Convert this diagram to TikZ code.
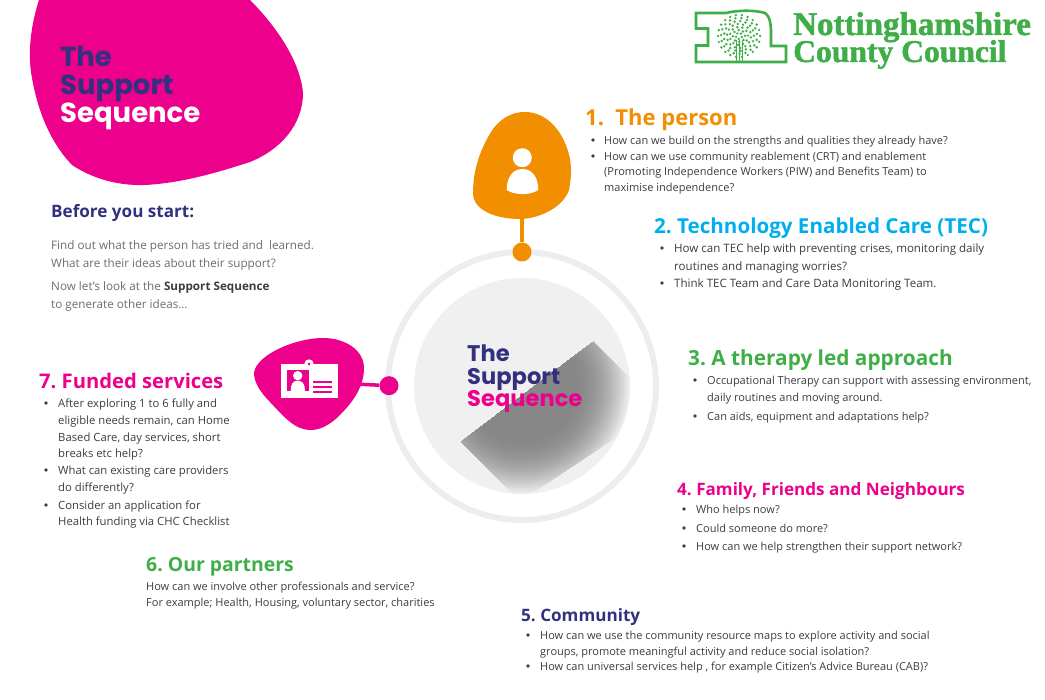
\documentclass[tikz,border=0pt]{standalone}
\usepackage{fontspec}
\setmainfont{Open Sans}
\newfontfamily\brandfont{Poppins}
\newfontfamily\logofont[FakeBold=1.5]{Liberation Serif}
\usetikzlibrary{calc}
\definecolor{brandpink}{HTML}{EC008C}
\definecolor{brandnavy}{HTML}{33317F}
\definecolor{brandorange}{HTML}{F18F01}
\definecolor{brandblue}{HTML}{00AEEF}
\definecolor{brandgreen}{HTML}{3FAE49}
\definecolor{bodytext}{HTML}{3C3C3C}
\definecolor{ringgray}{HTML}{ECEDEF}
\definecolor{discgray}{HTML}{F0F0F1}
\definecolor{shadowgray}{HTML}{878787}

\begin{document}
\frenchspacing
\begin{tikzpicture}[
  x=1pt,y=-1pt,
  heading/.style 2 args={anchor=base west,inner sep=0,text=#1,font=\fontsize{#2}{#2}\selectfont\bfseries},
  item/.style 2 args={anchor=base west,inner sep=0,align=left,text=bodytext,font=\fontsize{#1}{#2}\selectfont},
  intro/.style={item={11.7}{18},text=bodytext!75},
  brand/.style={anchor=base west,inner sep=0,font=\brandfont\bfseries\fontsize{#1}{#1}\selectfont},
  logotext/.style={anchor=base west,inner sep=0,text=brandgreen,font=\logofont\bfseries\fontsize{#1}{#1}\selectfont},
  dot/.style={circle,inner sep=0,minimum size=19,fill=#1},
  tick/.style={circle,inner sep=0,minimum size=3.8,fill=bodytext}]
  \useasboundingbox (0,0) rectangle (1045,700);
  % draw blob behind the title
  \fill[brandpink] (39,0) .. controls (31,25) and (28,50) .. (31,72)
    .. controls (36,105) and (48,140) .. (72,165)
    .. controls (90,177) and (115,186) .. (145,185)
    .. controls (185,183) and (225,170) .. (250,162)
    .. controls (280,150) and (303,125) .. (303,93)
    .. controls (300,60) and (275,25) .. (250,0) -- cycle;
  \node[brand=27.5,text=brandnavy] (titlea) at (60,66.5) {The};
  \node[brand=27.5,text=brandnavy] (titleb) at (60,95) {Support};
  \node[brand=27.5,text=white] (titlec) at (60,122.5) {Sequence};
  % draw council logo
  \draw[brandgreen,line width=2.6,line join=miter] (696,13) -- (726,13)
    .. controls (738,10) and (755,10) .. (765,13)
    .. controls (772,18) and (771,30) .. (771,46) -- (786,46) -- (786,62) -- (696,62)
    -- (696,45.5) -- (708,45.5) -- (708,28.5) -- (696,28.5) -- cycle;
  \coordinate (crown) at (739,36);
  \foreach \r/\n in {3/5,6/8,9/11,12/14,15/17,18/19,21/22} {
    \foreach \k in {1,...,\n} {
      \fill[brandgreen] ($(crown)+({360*\k/\n+7*\r}:\r)$) circle (1.35);
    }
  }
  \foreach \x in {736,739,742} {
    \draw[brandgreen,line width=0.8] (\x,40) -- (\x,61);
  }
  \node[logotext=33] (logoa) at (793,35) {Nottinghamshire};
  \node[logotext=31.6] (logob) at (793,62) {County Council};
  % show rings and shadow in the middle
  \coordinate (hub) at (522,386);
  \draw[ringgray,line width=6] (hub) circle (134);
  \fill[discgray] (hub) circle (108);
  \begin{scope}
    \clip (593,342) -- (461,442) -- (520,501) -- (660,408) -- cycle;
    % fade the shadow out towards the rim of the disc
    \foreach \step in {0,...,116} {
      \pgfmathsetmacro{\fade}{100*(1-\step/116)^2}
      \fill[discgray!\fade!shadowgray] (hub) circle (108-\step/2);
    }
  \end{scope}
  \node[brand=22.6,text=brandnavy] (huba) at (467,361.5) {The};
  \node[brand=22.6,text=brandnavy] (hubb) at (467,384.5) {Support};
  \node[brand=22.6,text=brandpink] (hubc) at (467,407) {Sequence};
  % draw person blob with stem
  \node[dot=brandorange] (persondot) at (522,252) {};
  \fill[brandorange] (525,112) .. controls (545,112) and (560,128) .. (567,148)
    .. controls (572,162) and (572,175) .. (569,190)
    .. controls (562,210) and (535,219) .. (520,219)
    .. controls (495,219) and (473,210) .. (473,193)
    .. controls (473,170) and (480,150) .. (491,132)
    .. controls (500,118) and (512,112) .. (525,112) -- cycle;
  \coordinate (personfoot) at (522,215);
  \draw[brandorange,line width=3.5] (personfoot) -- (persondot);
  \fill[white] (522.3,157.7) circle (9.5);
  \fill[white] (506.7,190) .. controls (506.7,177) and (513,169) .. (522.3,169)
    .. controls (532,169) and (538.3,177) .. (538.3,190)
    .. controls (530,195.5) and (515,195.5) .. (506.7,190) -- cycle;
  % draw card blob with stem
  \node[dot=brandpink] (carddot) at (389,385.7) {};
  \fill[brandpink] (323,338) .. controls (345,338) and (364,350) .. (364,368)
    .. controls (364,385) and (355,400) .. (340,415)
    .. controls (330,425) and (320,430) .. (311,430)
    .. controls (295,430) and (285,418) .. (270,402)
    .. controls (260,392) and (254,382) .. (254,373)
    .. controls (256,355) and (295,338) .. (323,338) -- cycle;
  \coordinate (cardfoot) at (355,384);
  \draw[brandpink,line width=3.5] (cardfoot) -- (carddot);
  \fill[white] (281,364.3) rectangle (337.7,397.7);
  \fill[white] (309,364) circle (4.7);
  \fill[brandpink] (309,364) circle (1.5);
  \fill[brandpink] (286.7,370) rectangle (309.3,391);
  \fill[white] (297.7,375.7) circle (4.7);
  \fill[white] (290.7,391) .. controls (290.7,384) and (293,380.7) .. (297.7,380.7)
    .. controls (302.5,380.7) and (305,384) .. (305,391) -- cycle;
  \foreach \y in {380.7,385.7,390.7} {
    \fill[brandpink] (313,\y) rectangle (332.3,\y+2.6);
  }
  % left column
  \node[heading={brandnavy}{17.1}] (before) at (51,217.8) {Before you start:};
  \node[intro] (introa) at (51,268) {Find out what the person has tried and\ \ learned.\\What are their ideas about their support?};
  \node[intro] (introb) at (51,309) {Now let’s look at the \textcolor{bodytext}{\textbf{Support Sequence}}\\to generate other ideas…};
  % section 1
  \node[heading={brandorange}{22}] (sa) at (585,125.3) {1.\ \ The person};
  \node[item={11}{15.5}] (sa1) at (604,144.3) {How can we build on the strengths and qualities they already have?};
  \node[item={11}{15.5}] (sa2) at (604,191.3) {How can we use community reablement (CRT) and enablement\\(Promoting Independence Workers (PIW) and Benefits Team) to\\maximise independence?};
  % section 2
  \node[heading={brandblue}{20.6}] (sb) at (654,233.8) {2. Technology Enabled Care (TEC)};
  \node[item={11.55}{17.5}] (sb1) at (674,270.3) {How can TEC help with preventing crises, monitoring daily\\routines and managing worries?};
  \node[item={11.55}{17.5}] (sb2) at (674,287.8) {Think TEC Team and Care Data Monitoring Team.};
  % section 3
  \node[heading={brandgreen}{20.8}] (sc) at (688,365.8) {3. A therapy led approach};
  \node[item={11}{17}] (sc1) at (707,401.8) {Occupational Therapy can support with assessing environment,\\daily routines and moving around.};
  \node[item={11}{17}] (sc2) at (707,420.8) {Can aids, equipment and adaptations help?};
  % section 4
  \node[heading={brandpink}{17.1}] (sd) at (677,495.8) {4. Family, Friends and Neighbours};
  \node[item={11}{15.5}] (sd1) at (696,513.8) {Who helps now?};
  \node[item={11}{15.5}] (sd2) at (696,532.8) {Could someone do more?};
  \node[item={11}{15.5}] (sd3) at (696,550.8) {How can we help strengthen their support network?};
  % section 5
  \node[heading={brandnavy}{17.1}] (se) at (521,621) {5. Community};
  \node[item={11}{16}] (se1) at (540,655) {How can we use the community resource maps to explore activity and social\\groups, promote meaningful activity and reduce social isolation?};
  \node[item={11}{16}] (se2) at (540,670) {How can universal services help , for example Citizen’s Advice Bureau (CAB)?};
  % section 6
  \node[heading={brandgreen}{19.4}] (sf) at (146,571) {6. Our partners};
  \node[item={11}{16}] (sf1) at (146,606) {How can we involve other professionals and service?\\For example; Health, Housing, voluntary sector, charities};
  % section 7
  \node[heading={brandpink}{20.2}] (sg) at (39,388.8) {7. Funded services};
  \node[item={11.3}{16.7}] (sg1) at (58,457.8) {After exploring 1 to 6 fully and\\eligible needs remain, can Home\\Based Care, day services, short\\breaks etc help?};
  \node[item={11.3}{16.7}] (sg2) at (58,491.6) {What can existing care providers\\do differently?};
  \node[item={11.3}{16.7}] (sg3) at (58,525.8) {Consider an application for\\Health funding via CHC Checklist};
  % draw list bullets
  \foreach \x/\y [count=\step from 1] in {593/140,593/156,662/248,662/283,695/380,695/416,684/509,684/528,684/546,528/635,528/666,46/403,46/470,46/505} {
    \node[tick] (b\step) at (\x,\y) {};
  }
\end{tikzpicture}
\end{document}
